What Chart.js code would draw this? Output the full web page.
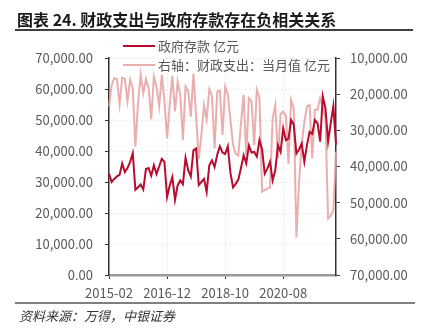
<!DOCTYPE html>
<html>
<head>
<meta charset="utf-8">
<script src="https://cdn.jsdelivr.net/npm/chart.js@4/dist/chart.umd.min.js"></script>
<style>
  body { margin: 0; background: #fff; }
  #wrap { position: relative; width: 425px; height: 331px; overflow: hidden; }
  #chart { position: absolute; left: 0; top: 0; }
  .title { position: absolute; left: 17px; top: 7px; font: bold 16px "Noto Sans CJK SC", sans-serif; color: #1a1a1a; white-space: nowrap; }
  .rule-top { position: absolute; left: 15px; top: 29px; width: 398px; height: 1.5px; background: #404040; }
  .rule-bottom { position: absolute; left: 15px; top: 302px; width: 400px; height: 1.5px; background: #808080; }
  .source { position: absolute; left: 19px; top: 306px; font: italic 13px "Noto Sans CJK SC", sans-serif; color: #333; white-space: nowrap; }
</style>
</head>
<body>
<div id="wrap">
  <canvas id="chart" width="425" height="331"></canvas>
  <div class="title">图表 24. 财政支出与政府存款存在负相关关系</div>
  <div class="rule-top"></div>
  <div class="rule-bottom"></div>
  <div class="source">资料来源：万得，中银证券</div>
</div>
<script>
const months = [
    '2015-02', '2015-03', '2015-04', '2015-05', '2015-06', '2015-07', '2015-08', '2015-09', '2015-10', '2015-11', '2015-12',
    '2016-01', '2016-02', '2016-03', '2016-04', '2016-05', '2016-06', '2016-07', '2016-08', '2016-09', '2016-10', '2016-11', '2016-12',
    '2017-01', '2017-02', '2017-03', '2017-04', '2017-05', '2017-06', '2017-07', '2017-08', '2017-09', '2017-10', '2017-11', '2017-12',
    '2018-01', '2018-02', '2018-03', '2018-04', '2018-05', '2018-06', '2018-07', '2018-08', '2018-09', '2018-10', '2018-11', '2018-12',
    '2019-01', '2019-02', '2019-03', '2019-04', '2019-05', '2019-06', '2019-07', '2019-08', '2019-09', '2019-10', '2019-11', '2019-12',
    '2020-01', '2020-02', '2020-03', '2020-04', '2020-05', '2020-06', '2020-07', '2020-08', '2020-09', '2020-10', '2020-11', '2020-12',
    '2021-01', '2021-02', '2021-03', '2021-04', '2021-05', '2021-06', '2021-07', '2021-08', '2021-09', '2021-10', '2021-11', '2021-12',
    '2022-01', '2022-02', '2022-03', '2022-04'
];

// 政府存款 (left axis)
const govDeposits = [
    32700, 30000, 31000, 31800, 32300, 36000, 33200, 34500, 36500, 39300, 27500,
    28300, 29200, 27600, 34200, 34500, 32000, 35400, 32600, 35000, 37500, 36500, 25200,
    28900, 31600, 24200, 28900, 30500, 29300, 37800, 33800, 31800, 40300, 40800, 29000,
    30000, 31000, 26800, 35400, 37000, 34800, 38800, 41500, 39500, 39000, 41500, 33000,
    28300, 29400, 30800, 34500, 38600, 36000, 41800, 39500, 39700, 38200, 43500, 40500,
    32700, 34300, 36500, 30500, 33800, 41900, 39700, 47300, 43500, 44000, 50000, 48500,
    39200, 40500, 42400, 36500, 41900, 46200, 45500, 50000, 49000, 43000, 57600, 53800,
    43000, 49000, 54500, 42000
];

// 财政支出：当月值 (right axis, reversed)
const fiscalSpending = [
    23400, 17500, 15600, 15800, 22800, 15400, 15700, 21900, 16000, 18300, 34500,
    22500, 14600, 19700, 15800, 18300, 26900, 15100, 18000, 23400, 14600, 22000, 32200,
    23000, 14900, 24800, 16500, 20200, 32700, 17900, 19100, 26200, 14400, 26000, 38000,
    31300, 23000, 27000, 18600, 20500, 35000, 19300, 19000, 31300, 17900, 20000, 27000,
    34000, 36500, 37000, 28000, 20200, 36900, 21100, 22000, 34100, 18800, 21000, 47000,
    46500, 46100, 45800, 26700, 23000, 37800, 25500, 24800, 26000, 39200, 21600, 24000,
    59600, 44300, 34000, 27600, 23400, 23000, 37800, 24300, 24300, 21100, 23500, 26500,
    54400, 53600, 52100, 35900
];

const leftTicks = { min: 0, max: 70000, step: 10000 };
const rightTicks = { min: 10000, max: 70000, step: 10000 };
const labelEvery = 22;

const fmt = v => Number(v).toLocaleString('en-US', { minimumFractionDigits: 2, maximumFractionDigits: 2 });
const tickFont = { family: '"Noto Sans CJK SC", sans-serif', size: 13 };
const tickGray = '#595959';

// legend drawn as two stacked rows, the second one reaching into the plot
const stackedLegend = {
    id: 'stackedLegend',
    afterDraw(chart) {
        const ctx = chart.ctx;
        const rows = [46, 65];
        ctx.save();
        ctx.font = '13px "Noto Sans CJK SC", sans-serif';
        ctx.textBaseline = 'middle';
        chart.data.datasets.forEach((ds, i) => {
            const y = rows[i];
            ctx.strokeStyle = ds.borderColor;
            ctx.lineWidth = 2;
            ctx.beginPath();
            ctx.moveTo(123, y);
            ctx.lineTo(155, y);
            ctx.stroke();
            ctx.fillStyle = tickGray;
            ctx.fillText(ds.label, 158, y);
        });
        ctx.restore();
    }
};

new Chart(document.getElementById('chart'), {
    type: 'line',
    data: {
        labels: months,
        datasets: [{
            label: '政府存款 亿元',
            data: govDeposits,
            yAxisID: 'y',
            borderColor: '#B80C2E',
            borderWidth: 2,
            pointRadius: 0,
            tension: 0
        }, {
            label: '右轴：财政支出：当月值 亿元',
            data: fiscalSpending,
            yAxisID: 'y1',
            borderColor: 'rgba(232, 160, 160, 0.85)',
            borderWidth: 2,
            pointRadius: 0,
            tension: 0
        }]
    },
    options: {
        responsive: false,
        animation: false,
        devicePixelRatio: 1,
        layout: { padding: { top: 58, left: 0, right: 0, bottom: 0 } },
        plugins: { legend: { display: false }, tooltip: { enabled: false } },
        scales: {
            x: {
                afterBuildTicks: scale => {
                    scale.ticks = scale.ticks.filter(t => t.value % labelEvery === 0);
                },
                afterFit: scale => { scale.height = 56; },
                ticks: { autoSkip: false, maxRotation: 0, color: tickGray, font: tickFont, padding: 6 },
                grid: { color: '#d6d6d6', tickColor: '#333', tickLength: 4, tickBorderDash: [] },
                border: { color: '#9a9a9a', width: 2.5, dash: [1, 3] }
            },
            y: {
                position: 'left',
                min: leftTicks.min,
                max: leftTicks.max,
                afterFit: scale => { scale.width = 109; },
                ticks: { stepSize: leftTicks.step, callback: fmt, color: tickGray, font: tickFont, padding: 12 },
                grid: { color: '#d6d6d6', tickColor: '#333', tickLength: 4, tickBorderDash: [] },
                border: { color: '#333', width: 1.5, dash: [1, 3] }
            },
            y1: {
                position: 'right',
                reverse: true,
                min: rightTicks.min,
                max: rightTicks.max,
                afterFit: scale => { scale.width = 89; },
                ticks: { stepSize: rightTicks.step, callback: fmt, color: tickGray, font: tickFont, padding: 10 },
                grid: { drawOnChartArea: false, tickColor: '#333', tickLength: 4 },
                border: { color: '#333', width: 1.5 }
            }
        }
    },
    plugins: [stackedLegend]
});
</script>
</body>
</html>
